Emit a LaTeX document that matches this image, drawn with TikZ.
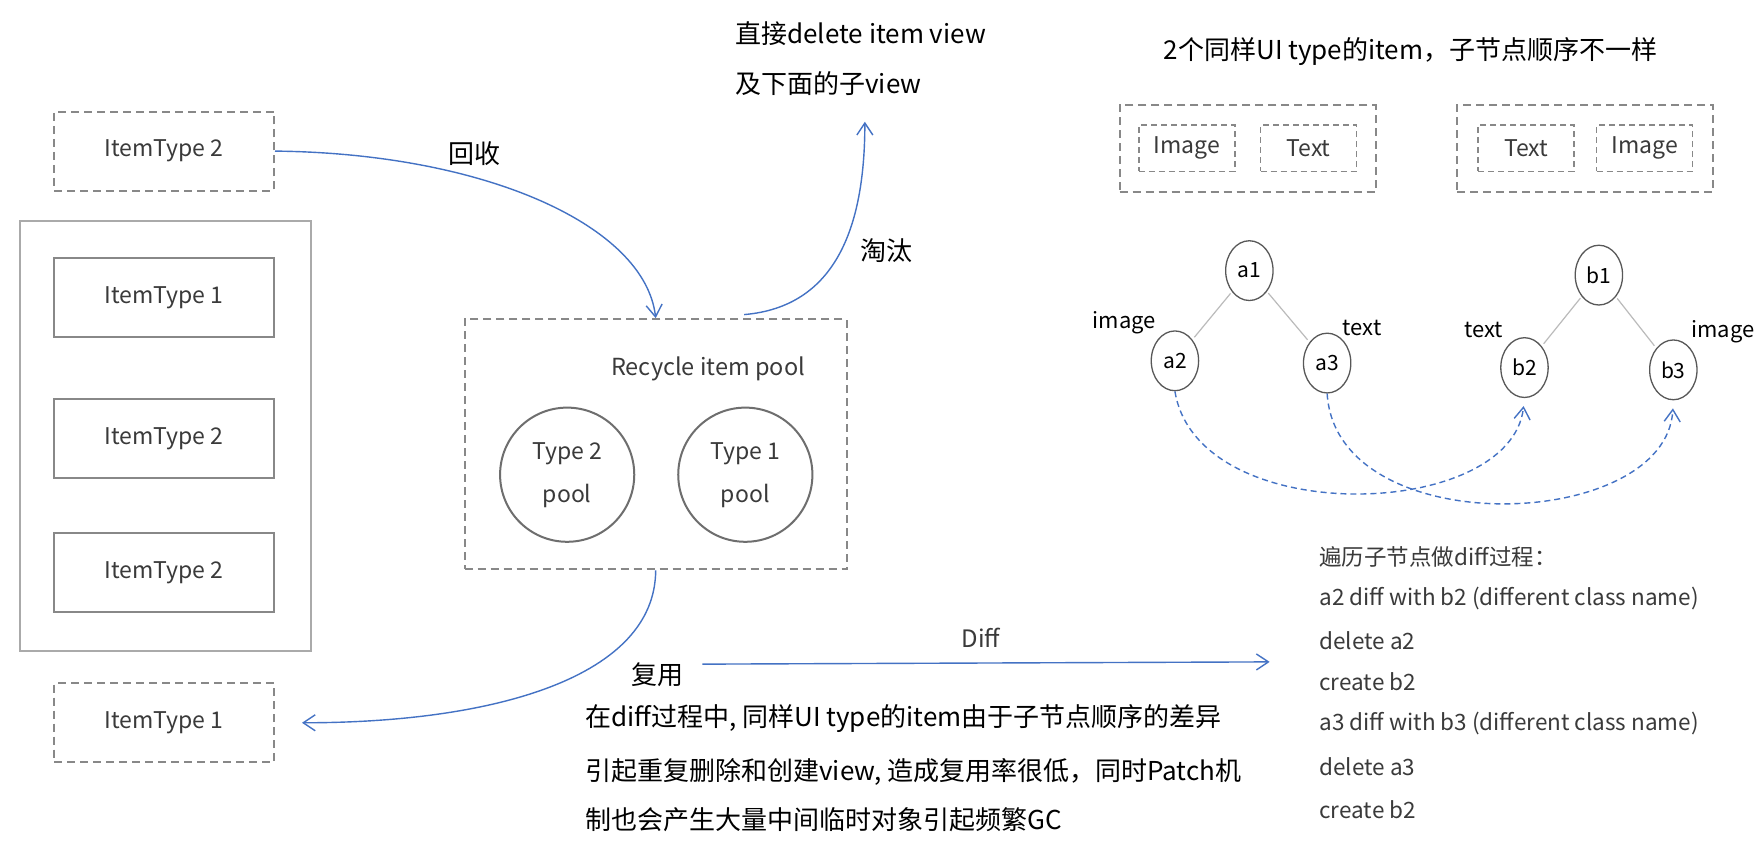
\documentclass[tikz,border=0pt]{standalone}
\usepackage{fontspec}
\setmainfont{Noto Sans CJK SC}
\usetikzlibrary{arrows.meta,shapes.geometric}
\definecolor{arrowblue}{HTML}{4472C4}
\definecolor{boxgrey}{HTML}{888888}
\definecolor{lightgrey}{HTML}{AAAAAA}
\definecolor{edgegrey}{HTML}{BBBBBB}
\definecolor{ringgrey}{HTML}{6E6E6E}
\definecolor{txt}{HTML}{3A3A3A}
\def\PXU{1.1276pt}
\begin{document}
\begin{tikzpicture}[x=1.1276pt,y=-1.1276pt,
  solidbox/.style={draw=boxgrey, line width=2pt, minimum width=195*\PXU, minimum height=70*\PXU, inner sep=0pt, text=txt, font=\fontsize{23}{27}\selectfont},
  dashbox/.style={solidbox, dash pattern=on 8pt off 5pt},
  smallbox/.style={draw=boxgrey, line width=1.6pt, dash pattern=on 6pt off 4pt, minimum width=85*\PXU, minimum height=41*\PXU, inner sep=0pt, text=txt, font=\fontsize{23}{27}\selectfont},
  bigdash/.style={draw=boxgrey, line width=1.8pt, dash pattern=on 8pt off 5pt, minimum width=227*\PXU, minimum height=77*\PXU, inner sep=0pt},
  poolring/.style={circle, draw=ringgrey, line width=2pt, minimum size=119*\PXU, inner sep=0pt, text=txt, align=center, font=\fontsize{23}{43}\selectfont},
  treenode/.style={ellipse, draw=ringgrey!80!black, line width=1.3pt, minimum width=42*\PXU, minimum height=53*\PXU, inner sep=0pt, font=\fontsize{21}{25}\selectfont},
  treeedge/.style={draw=edgegrey, line width=1.2pt, shorten <=2pt, shorten >=3pt},
  flow/.style={draw=arrowblue, line width=1.4pt, -{Straight Barb[length=12pt,width=16pt]}},
  dflow/.style={flow, dash pattern=on 6pt off 4pt},
  cjk/.style={font=\fontsize{26}{30}\selectfont, text=black},
  para/.style={font=\fontsize{26}{30}\selectfont, text=black, anchor=west, inner sep=0pt},
  listline/.style={font=\fontsize{22.5}{26}\selectfont, text=txt, anchor=west, inner sep=0pt},
  lbl/.style={font=\fontsize{22}{26}\selectfont, text=black, inner sep=0pt}
]
\useasboundingbox[fill=white] (0,0) rectangle (1560,752);

% ---------- left column ----------
\node[dashbox] (d1) at (145.5,134) {ItemType 2};
\node[draw=lightgrey, line width=2pt, minimum width=258*\PXU, minimum height=381*\PXU, inner sep=0pt] (list) at (147,386.5) {};
\node[solidbox] (l1) at (145.5,264) {ItemType 1};
\node[solidbox] (l2) at (145.5,389) {ItemType 2};
\node[solidbox] (l3) at (145.5,508) {ItemType 2};
\node[dashbox] (d2) at (145.5,641) {ItemType 1};

% ---------- recycle pool ----------
\node[draw=boxgrey, line width=2pt, dash pattern=on 8pt off 5pt, minimum width=339*\PXU, minimum height=222*\PXU, inner sep=0pt] (pool) at (581.5,394) {};
\node[font=\fontsize{23.5}{27}\selectfont, text=txt] (pooltitle) at (628,327) {Recycle item pool};
\node[poolring] (p2) at (503,421) {Type 2\\pool};
\node[poolring] (p1) at (661,421) {Type 1\\pool};

% ---------- arrows round the pool ----------
\draw[flow] (d1.east) .. controls (430,136) and (572,200) .. (pool.north);
\node[cjk] (huishou) at (421,136) {回收};

\node[cjk, anchor=west, inner sep=0pt] (del1) at (652,30) {直接delete item view};
\node[cjk, anchor=west, inner sep=0pt] (del2) at (652,74) {及下面的子view};
\coordinate (tatStart) at (660,279);
\coordinate (tatEnd) at (767,108);
\draw[flow] (tatStart) .. controls (742,272) and (767,200) .. (tatEnd);
\node[cjk] (taotai) at (786,222) {淘汰};

\draw[flow, shorten >=27pt] (pool.south) .. controls (581,600) and (440,641) .. (d2.east);
\node[cjk] (fuyong) at (583,598) {复用};

\coordinate (diffStart) at (623,589);
\coordinate (diffEnd) at (1126,587);
\draw[flow] (diffStart) -- (diffEnd);
\node[font=\fontsize{24}{28}\selectfont, text=txt] (diffl) at (870,566) {Diff};

\node[para] (pa) at (519,637) {在diff过程中, 同样UI type的item由于子节点顺序的差异};
\node[para] (pb) at (519,685) {引起重复删除和创建view, 造成复用率很低，同时Patch机};
\node[para] (pc) at (519,727) {制也会产生大量中间临时对象引起频繁GC};

% ---------- right top ----------
\node[cjk] (title) at (1251,46) {2个同样UI type的item，子节点顺序不一样};
\node[bigdash] (ba) at (1106.5,131.5) {};
\node[smallbox] (baimg) at (1052.5,131.5) {Image};
\node[smallbox] (batxt) at (1160.5,131.5) {Text};
\node[bigdash] (bb) at (1406,131.5) {};
\node[smallbox] (bbtxt) at (1353.5,131.5) {Text};
\node[smallbox] (bbimg) at (1458.5,131.5) {Image};

% ---------- trees ----------
\node[treenode] (a1) at (1108,240) {a1};
\node[treenode] (a2) at (1042,320) {a2};
\node[treenode] (a3) at (1177,322) {a3};
\node[treenode] (b1) at (1418,244) {b1};
\node[treenode] (b2) at (1352,326) {b2};
\node[treenode] (b3) at (1484,328) {b3};
\draw[treeedge] (a1) -- (a2);
\draw[treeedge] (a1) -- (a3);
\draw[treeedge] (b1) -- (b2);
\draw[treeedge] (b1) -- (b3);
\node[lbl] (la2) at (997,286) {image};
\node[lbl] (la3) at (1208,291) {text};
\node[lbl] (lb2) at (1316,293) {text};
\node[lbl] (lb3) at (1528,294) {image};

\draw[dflow, shorten >=8pt] (a2.south) .. controls (1062,470) and (1340,462) .. (b2.south);
\draw[dflow, shorten >=8pt] (a3.south) .. controls (1185,482) and (1478,472) .. (b3.south);

% ---------- right bottom list ----------
\node[listline] (r1) at (1170,494) {遍历子节点做diff过程：};
\node[listline] (r2) at (1170,531) {a2 diff with b2 (different class name)};
\node[listline] (r3) at (1170,568) {delete a2};
\node[listline] (r4) at (1170,605) {create b2};
\node[listline] (r5) at (1170,642) {a3 diff with b3 (different class name)};
\node[listline] (r6) at (1170,680) {delete a3};
\node[listline] (r7) at (1170,718) {create b2};
\end{tikzpicture}
\end{document}
